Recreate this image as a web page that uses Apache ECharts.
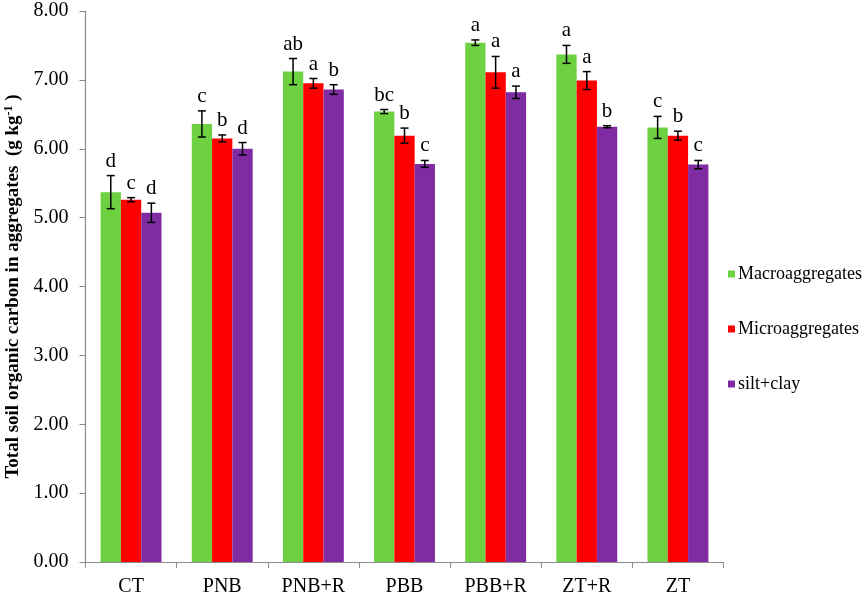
<!DOCTYPE html>
<html>
<head>
<meta charset="utf-8">
<script src="https://cdn.jsdelivr.net/npm/echarts@6/dist/echarts.min.js"></script>
<style>
  html,body{margin:0;padding:0;background:#fff;}
  #chart{width:865px;height:595px;}
</style>
</head>
<body>
<div id="chart"></div>
<script>
var categories = ['CT', 'PNB', 'PNB+R', 'PBB', 'PBB+R', 'ZT+R', 'ZT'];
var seriesNames = ['Macroaggregates', 'Microaggregates', 'silt+clay'];

var macro = [5.37, 6.36, 7.12, 6.54, 7.54, 7.37, 6.31];
var micro = [5.26, 6.15, 6.95, 6.19, 7.11, 6.99, 6.19];
var silt = [5.07, 6.00, 6.86, 5.78, 6.82, 6.32, 5.77];

var macroErr = [0.24, 0.19, 0.19, 0.03, 0.04, 0.13, 0.16];
var microErr = [0.03, 0.05, 0.07, 0.11, 0.23, 0.13, 0.065];
var siltErr = [0.14, 0.09, 0.07, 0.05, 0.09, 0.015, 0.06];

var macroLetters = ['d', 'c', 'ab', 'bc', 'a', 'a', 'c'];
var microLetters = ['c', 'b', 'a', 'b', 'a', 'a', 'b'];
var siltLetters = ['d', 'd', 'b', 'c', 'a', 'b', 'c'];

var yTicks = [0, 1, 2, 3, 4, 5, 6, 7, 8];

var colors = ['#6DD142', '#FF0000', '#7F2CA3'];
var FONT = '"Liberation Serif", "Times New Roman", serif';
var BAR_W = 20.3;

var chart = echarts.init(document.getElementById('chart'));

// error bars + significance letters, one custom series per bar series
function errSeries(idx, vals, errs, letters) {
    var data = vals.map(function (v, i) { return [i, v, errs[i], letters[i]]; });
    return {
        type: 'custom',
        name: seriesNames[idx] + '_err',
        z: 10,
        silent: true,
        data: data,
        renderItem: function (params, api) {
            var i = api.value(0), v = api.value(1), e = api.value(2);
            var hi = api.coord([i, v + e]);
            var lo = api.coord([i, v - e]);
            var x = hi[0] + (idx - 1) * BAR_W;
            var cap = 4;
            var st = {stroke: '#000', lineWidth: 1.5};
            return {
                type: 'group',
                children: [
                    {type: 'line', shape: {x1: x, y1: hi[1], x2: x, y2: lo[1]}, style: st},
                    {type: 'line', shape: {x1: x - cap, y1: hi[1], x2: x + cap, y2: hi[1]}, style: st},
                    {type: 'line', shape: {x1: x - cap, y1: lo[1], x2: x + cap, y2: lo[1]}, style: st},
                    {type: 'text', style: {
                        text: letters[i], x: x, y: hi[1] - 4,
                        align: 'center', verticalAlign: 'bottom',
                        font: '21px ' + FONT, fill: '#000'
                    }}
                ]
            };
        }
    };
}

var option = {
    animation: false,
    backgroundColor: '#fff',
    grid: {left: 85.5, right: 141.5, top: 11, bottom: 33, containLabel: false, outerBoundsMode: 'none'},
    legend: {
        orient: 'vertical',
        left: 723,
        top: 260,
        itemWidth: 7,
        itemHeight: 7,
        itemGap: 37,
        icon: 'rect',
        data: seriesNames,
        textStyle: {fontFamily: FONT, fontSize: 18, color: '#000', padding: [0, 0, 0, -2]}
    },
    xAxis: {
        type: 'category',
        data: categories,
        axisLine: {lineStyle: {color: '#8c8c8c', width: 1.2}},
        axisTick: {show: true, length: 6, lineStyle: {color: '#8c8c8c'}},
        axisLabel: {fontFamily: FONT, fontSize: 20, color: '#000', margin: 15}
    },
    yAxis: {
        type: 'value',
        min: yTicks[0],
        max: yTicks[yTicks.length - 1],
        interval: 1,
        name: '{b|Total soil organic carbon in aggregates  (g kg}{s|-1}{b| )}',
        nameLocation: 'middle',
        nameGap: 57,
        nameTextStyle: {
            rich: {
                b: {fontFamily: FONT, fontSize: 19, fontWeight: 'bold', color: '#000'},
                s: {fontFamily: FONT, fontSize: 12, fontWeight: 'bold', color: '#000', verticalAlign: 'top', padding: [0, 0, 8, 0]}
            }
        },
        splitLine: {show: false},
        axisLine: {show: true, lineStyle: {color: '#8c8c8c', width: 1.2}},
        axisTick: {show: true, length: 6, lineStyle: {color: '#8c8c8c'}},
        axisLabel: {
            fontFamily: FONT, fontSize: 20, color: '#000', margin: 17,
            formatter: function (v) { return v.toFixed(2); }
        }
    },
    series: [
        {name: seriesNames[0], type: 'bar', data: macro, barWidth: BAR_W, barGap: '0%', itemStyle: {color: colors[0]}},
        {name: seriesNames[1], type: 'bar', data: micro, barWidth: BAR_W, barGap: '0%', itemStyle: {color: colors[1]}},
        {name: seriesNames[2], type: 'bar', data: silt, barWidth: BAR_W, barGap: '0%', itemStyle: {color: colors[2]}},
        errSeries(0, macro, macroErr, macroLetters),
        errSeries(1, micro, microErr, microLetters),
        errSeries(2, silt, siltErr, siltLetters)
    ]
};
chart.setOption(option);
</script>
</body>
</html>
